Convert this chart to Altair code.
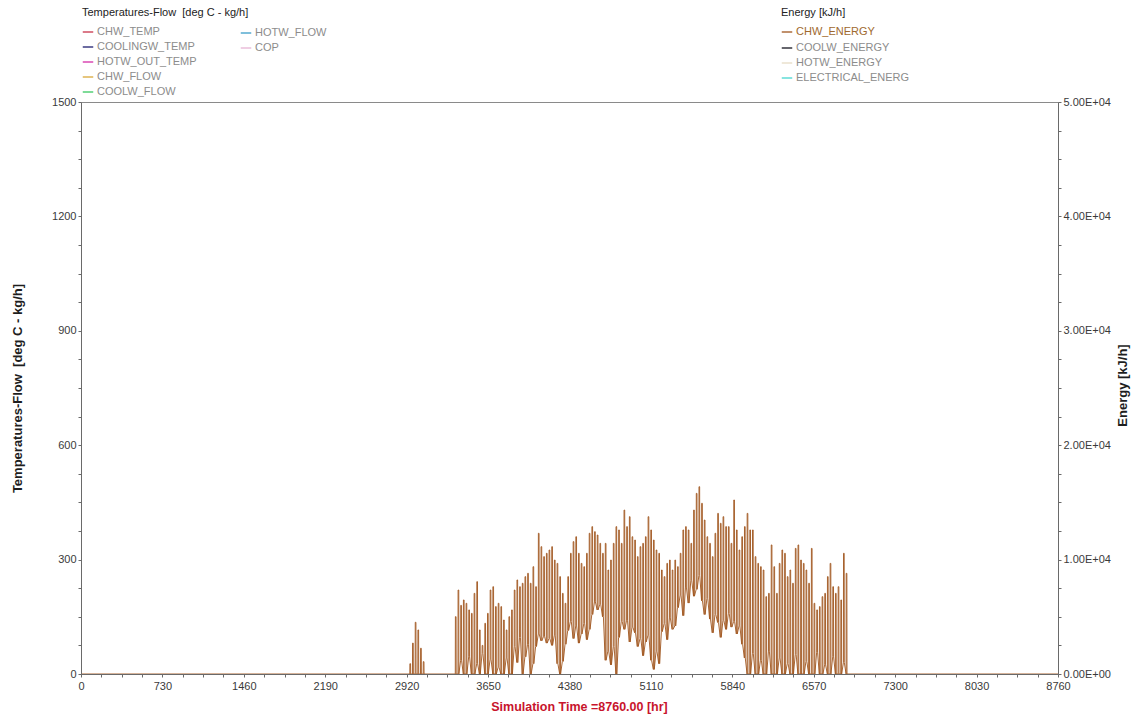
import altair as alt
import pandas as pd

# ---- legend series (left axis: temperatures / flows, right axis: energy rates) ----
temp_flow_series = ["CHW_TEMP", "COOLINGW_TEMP", "HOTW_OUT_TEMP", "CHW_FLOW", "COOLW_FLOW"]
temp_flow_colors = ["#c8324a", "#1c1c6e", "#d42ca8", "#d8a838", "#38c860"]
extra_series = ["HOTW_FLOW", "COP"]
extra_colors = ["#3a9cc8", "#e6b4d4"]
chw_series = ["CHW_ENERGY"]
chw_colors = ["#a0561e"]
other_energy_series = ["COOLW_ENERGY", "HOTW_ENERGY", "ELECTRICAL_ENERG"]
other_energy_colors = ["#14141e", "#e6dcc4", "#46d6d0"]

# ---- tick labels ----
x_major_ticks = [0, 730, 1460, 2190, 2920, 3650, 4380, 5110, 5840, 6570, 7300, 8030, 8760]
left_major_ticks = [0, 300, 600, 900, 1200, 1500]
right_major_ticks = [0, 10000, 20000, 30000, 40000, 50000]

# ---- CHW_ENERGY [kJ/h]: short early cooling spell (daily peaks) ----
spell_start_hr = 2940
spell_peaks = [900, 2700, 4520, 3850, 2250, 1080]

# ---- CHW_ENERGY [kJ/h]: main cooling season, daily peak and night-time low ----
season_start_hr = 3348
season_peaks = [
    5010, 7340, 6000, 6470, 6180, 5600, 5300, 7050, 8070, 3850,
    2500, 4430, 5300, 7340, 7630, 5890, 6180, 5890, 4720, 3850,
    5010, 5600, 7340, 8220, 7630, 7930, 8510, 8800, 7930, 9380,
    7630, 12300, 11130, 10260, 10550, 10840, 11130, 9960, 9670, 8510,
    7050, 6180, 8510, 10550, 11570, 12000, 10550, 9670, 9380, 10550,
    12300, 12880, 12440, 12150, 11420, 10550, 11420, 9090, 9960, 11420,
    12880, 12590, 11420, 14330, 12880, 13750, 12000, 11710, 10260, 11130,
    11420, 12000, 13750, 12590, 11710, 10840, 10550, 9090, 8510, 9670,
    9960, 9090, 9960, 9380, 10550, 12590, 12880, 12590, 11420, 14330,
    15790, 16370, 14920, 13460, 12000, 11420, 10260, 12300, 14040, 13170,
    13750, 12880, 12880, 11420, 15210, 12590, 10840, 12000, 12880, 14040,
    12590, 12590, 10260, 9670, 9380, 9090, 6760, 7050, 11280, 9380,
    7050, 9670, 10840, 10550, 8510, 9090, 7930, 10980, 11280, 9960,
    9670, 9090, 7930, 10980, 6180, 5600, 5890, 6760, 7050, 8510,
    9670, 7630, 7050, 7630, 6470, 10550, 8800,
]
season_lows = [
    0, 0, 1200, 0, 0, 1500, 0, 0, 900, 0,
    1800, 0, 0, 1300, 0, 0, 600, 0, 0, 1400,
    0, 0, 2400, 1000, 3200, 0, 1500, 2600, 0, 900,
    2400, 3500, 2900, 3300, 2700, 3100, 2500, 3400, 900, 0,
    1100, 2600, 3800, 4600, 3100, 4200, 2700, 3500, 4400, 3000,
    3900, 5200, 6300, 5600, 6100, 5000, 1200, 2000, 800, 2400,
    0, 3200, 4600, 3900, 4700, 2800, 4100, 3600, 2400, 3100,
    1600, 2800, 3400, 1200, 400, 2000, 900, 3700, 4400, 3000,
    4900, 3900, 4200, 5800, 6900, 5100, 7600, 6200, 8200, 6800,
    7400, 8600, 6400, 5200, 6600, 4800, 3600, 5200, 4500, 3200,
    4700, 3900, 5300, 4100, 4600, 3500, 4200, 2600, 1400, 0,
    0, 1800, 0, 0, 1200, 0, 0, 2000, 0, 0,
    0, 1400, 0, 0, 900, 0, 0, 1700, 0, 0,
    0, 1100, 0, 0, 0, 1900, 0, 0, 800, 0,
    0, 1500, 0, 0, 0, 1000, 0,
]


def quarter_ticks(majors):
    out = []
    for a, b in zip(majors[:-1], majors[1:]):
        step = (b - a) / 4
        out += [a + k * step for k in range(4)]
    return out + [majors[-1]]


# hourly profile: low overnight, step up in the morning, step down in the evening
hours, energy = [0], [0]
for d, peak in enumerate(spell_peaks):
    s = spell_start_hr + 24 * d
    hours += [s + 8, s + 9, s + 15, s + 16]
    energy += [0, peak, peak, 0]
for d, (peak, low) in enumerate(zip(season_peaks, season_lows)):
    s = season_start_hr + 24 * d
    hours += [s + 8, s + 9, s + 15, s + 16]
    energy += [low, peak, peak, low]
hours += [season_start_hr + 24 * len(season_peaks), 8760]
energy += [0, 0]

energy_df = pd.DataFrame({"hour": hours, "energy": energy, "series": "CHW_ENERGY"})
left_df = pd.DataFrame({"series": temp_flow_series, "hour": 0, "value": 0})
extra_df = pd.DataFrame({"series": extra_series, "hour": 0})
other_energy_df = pd.DataFrame({"series": other_energy_series, "hour": 0})

FONT = "Liberation Sans"
AXIS_GREY = "#6a6a6a"
LABEL_GREY = "#8c8c8c"
LEFT_TITLE = "Temperatures-Flow\u00a0 [deg C - kg/h]"

x_enc = alt.X(
    "hour:Q",
    scale=alt.Scale(domain=[0, 8760], nice=False, zero=False),
    axis=alt.Axis(
        values=quarter_ticks(x_major_ticks),
        labelExpr="datum.value % 730 === 0 ? '' + datum.value : ''",
        labelOverlap=False, labelFlush=False, grid=False, zindex=1,
        tickSize=3, tickColor=AXIS_GREY, domainColor=AXIS_GREY,
        labelPadding=3, labelFont=FONT, labelFontSize=11, labelColor="#3a3a3a",
        title="Simulation Time =8760.00 [hr]", titleFont=FONT, titleFontSize=12.5,
        titleFontWeight="bold", titleColor="#c8142c",
        titleX=498, titleY=32, titleAlign="center", titleBaseline="middle",
    ),
)


def legend(title, x, y, label_color=LABEL_GREY):
    return alt.Legend(
        orient="none", legendX=x, legendY=y, direction="vertical",
        symbolType="stroke", symbolSize=110, symbolStrokeWidth=1.3, symbolOpacity=1,
        labelFont=FONT, labelFontSize=11, labelColor=label_color, labelOffset=3,
        rowPadding=4, padding=0, titlePadding=8,
        title=title, titleFont=FONT, titleFontSize=11, titleFontWeight="normal",
        titleColor="#222222",
    )


left_layer = alt.Chart(left_df).mark_point(size=0).encode(
    x=x_enc,
    y=alt.Y(
        "value:Q",
        scale=alt.Scale(domain=[0, 1500], nice=False),
        axis=alt.Axis(
            orient="left", values=quarter_ticks(left_major_ticks),
            labelExpr="datum.value % 300 === 0 ? '' + datum.value : ''",
            labelOverlap=False, labelFlush=False, grid=False, zindex=1,
            tickSize=3, tickColor=AXIS_GREY, domainColor=AXIS_GREY,
            labelPadding=2, labelFont=FONT, labelFontSize=11, labelColor="#3a3a3a",
            title=LEFT_TITLE, titleFont=FONT, titleFontSize=13,
            titleFontWeight="bold", titleColor="#1e1e1e", titleAngle=270,
            titleX=-64, titleY=286, titleAlign="center", titleBaseline="middle",
        ),
    ),
    color=alt.Color(
        "series:N",
        scale=alt.Scale(domain=temp_flow_series, range=temp_flow_colors),
        legend=legend(LEFT_TITLE, 1, -95),
    ),
)

extra_layer = alt.Chart(extra_df).mark_point(size=0).encode(
    x=x_enc,
    y=alt.value(0),
    color=alt.Color(
        "series:N",
        scale=alt.Scale(domain=extra_series, range=extra_colors),
        legend=legend(None, 159, -75),
    ),
)

other_energy_layer = alt.Chart(other_energy_df).mark_point(size=0).encode(
    x=x_enc,
    y=alt.value(0),
    color=alt.Color(
        "series:N",
        scale=alt.Scale(domain=other_energy_series, range=other_energy_colors),
        legend=legend(None, 700, -60),
    ),
)

energy_layer = alt.Chart(energy_df).mark_line(strokeWidth=0.9).encode(
    x=x_enc,
    y=alt.Y(
        "energy:Q",
        scale=alt.Scale(domain=[0, 50000], nice=False),
        axis=alt.Axis(
            orient="right", values=quarter_ticks(right_major_ticks),
            labelExpr=(
                "datum.value === 0 ? '0.00E+00' : (datum.value % 10000 === 0 ? "
                "format(datum.value / 10000, '.2f') + 'E+04' : '')"
            ),
            labelOverlap=False, labelFlush=False, grid=False, zindex=1,
            tickSize=3, tickColor=AXIS_GREY, domainColor=AXIS_GREY,
            labelPadding=2, labelFont=FONT, labelFontSize=11, labelColor="#3a3a3a",
            title="Energy [kJ/h]", titleFont=FONT, titleFontSize=13,
            titleFontWeight="bold", titleColor="#1e1e1e", titleAngle=270,
            titleX=64, titleY=283, titleAlign="center", titleBaseline="middle",
        ),
    ),
    color=alt.Color(
        "series:N",
        scale=alt.Scale(domain=chw_series, range=chw_colors),
        legend=legend("Energy [kJ/h]", 700, -95, label_color="#a0692e"),
    ),
)

chart = (
    alt.layer(left_layer, extra_layer, other_energy_layer, energy_layer)
    .resolve_scale(y="independent", color="independent")
    .properties(
        width=977, height=572,
        autosize=alt.AutoSizeParams(type="none"),
        padding={"left": 81, "top": 102, "right": 75, "bottom": 45},
        background="white",
    )
    .configure_view(stroke="#8a8a8a", strokeWidth=1)
)

chart.save("out.html", embed_options={"renderer": "svg", "actions": False})
